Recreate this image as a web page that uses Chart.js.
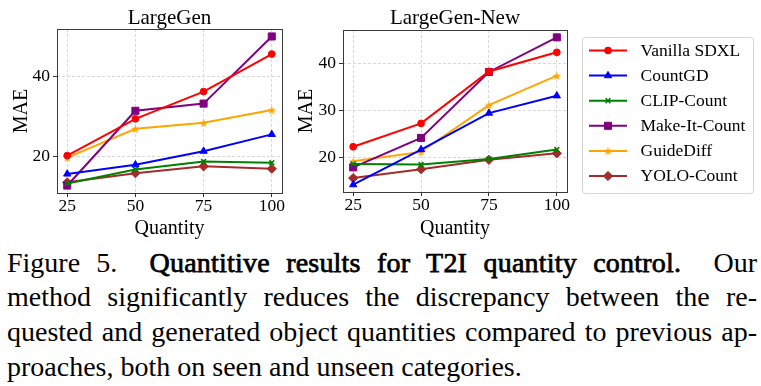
<!DOCTYPE html>
<html>
<head>
<meta charset="utf-8">
<script src="https://cdn.jsdelivr.net/npm/chart.js@4.4.0/dist/chart.umd.min.js"></script>
<style>
  html, body { margin: 0; padding: 0; background: #fff; }
  body { width: 761px; height: 386px; position: relative; overflow: hidden; }
  canvas { position: absolute; top: 0; }
  #seenChart { left: 0; }
  #newChart { left: 290px; }
  #caption {
    position: absolute; left: 7px; top: 245.5px; width: 750px;
    font-family: 'Liberation Serif', 'Times New Roman', serif;
    font-size: 28px; line-height: 34.67px; color: #000;
  }
  #caption .j { text-align: justify; text-align-last: justify; }
  #caption .b { font-weight: normal; -webkit-text-stroke: 0.75px #000; letter-spacing: 0.2px; }
</style>
</head>
<body>
<canvas id="seenChart" width="290" height="246"></canvas>
<canvas id="newChart" width="471" height="246"></canvas>
<div id="caption">
  <div class="j">Figure 5.&nbsp; <span class="b">Quantitive results for T2I quantity control.</span>&nbsp; Our</div>
  <div class="j">method significantly reduces the discrepancy between the re-</div>
  <div class="j">quested and generated object quantities compared to previous ap-</div>
  <div>proaches, both on seen and unseen categories.</div>
</div>
<script>
Chart.defaults.font.family = "'Liberation Serif', 'Times New Roman', serif";
Chart.defaults.color = "#000";

/* =========================
   DATA
========================= */
const quantities = [25, 50, 75, 100];
const xTickValues = [25, 50, 75, 100];
const yTicksSeen = [20, 40];
const yTicksNew = [20, 30, 40];

const methods = ["Vanilla SDXL", "CountGD", "CLIP-Count", "Make-It-Count", "GuideDiff", "YOLO-Count"];

// LargeGen (seen categories)
const vanillaSeen = [20.2, 29.4, 36.2, 45.6];
const countGDSeen = [15.6, 17.9, 21.3, 25.5];
const clipSeen    = [13.2, 16.7, 18.7, 18.4];
const makeItSeen  = [12.7, 31.4, 33.2, 50.0];
const guideSeen   = [19.7, 26.9, 28.4, 31.6];
const yoloSeen    = [13.5, 15.8, 17.5, 16.9];

// LargeGen-New (unseen categories)
const vanillaNew = [22.2, 27.2, 38.3, 42.4];
const countGDNew = [14.1, 21.6, 29.4, 33.1];
const clipNew    = [18.5, 18.4, 19.6, 21.6];
const makeItNew  = [17.8, 24.1, 38.2, 45.6];
const guideNew   = [19.1, 21.1, 31.1, 37.4];
const yoloNew    = [15.5, 17.4, 19.4, 20.8];

/* =========================
   STYLE
========================= */
const colors = ["#ff0000", "#0000ff", "#008000", "#800080", "#ffa500", "#a52a2a"];

function makeStar(size, color) {
  const c = document.createElement("canvas");
  c.width = c.height = size;
  const g = c.getContext("2d");
  g.fillStyle = color;
  g.beginPath();
  for (let i = 0; i < 10; i++) {
    const r = i % 2 ? size * 0.21 : size * 0.5;
    const a = -Math.PI / 2 + i * Math.PI / 5;
    g.lineTo(size / 2 + r * Math.cos(a), size / 2 + 0.6 + r * Math.sin(a));
  }
  g.closePath();
  g.fill();
  return c;
}

const markers = ["circle", "triangle", "crossRot", "rect", makeStar(9, colors[4]), "rectRot"];
const markerRadius = [3.4, 4.2, 3.4, 5, 4, 4.6];
const markerBorder = [1, 1, 1.6, 1, 1, 1];

function padRange(series) {
  const all = series.flat();
  const lo = Math.min(...all), hi = Math.max(...all);
  const pad = (hi - lo) * 0.05;
  return [lo - pad, hi + pad];
}

/* =========================
   PLUGINS
========================= */
const framePlugin = {
  id: "frame",
  afterDatasetsDraw(chart) {
    const a = chart.chartArea, ctx = chart.ctx;
    ctx.save();
    ctx.strokeStyle = "#3a3a3a";
    ctx.lineWidth = 1;
    ctx.strokeRect(Math.round(a.left) + 0.5, Math.round(a.top) + 0.5,
      Math.round(a.right - a.left), Math.round(a.bottom - a.top));
    ctx.restore();
  }
};

const legendPlugin = {
  id: "boxLegend",
  afterDraw(chart) {
    const ctx = chart.ctx;
    const bx = 292.5, by = 37.5, bw = 171, bh = 156;
    ctx.save();
    ctx.beginPath();
    ctx.roundRect(bx, by, bw, bh, 3);
    ctx.fillStyle = "rgba(255,255,255,0.9)";
    ctx.fill();
    ctx.strokeStyle = "#d6d6d6";
    ctx.lineWidth = 1;
    ctx.stroke();

    chart.data.datasets.forEach((ds, i) => {
      const y = 50.5 + i * 25.1;
      ctx.strokeStyle = ds.borderColor;
      ctx.lineWidth = 2;
      ctx.beginPath();
      ctx.moveTo(299, y);
      ctx.lineTo(337, y);
      ctx.stroke();
      ctx.fillStyle = ds.borderColor;
      ctx.lineWidth = ds.pointBorderWidth;
      Chart.helpers.drawPoint(ctx, {
        pointStyle: ds.pointStyle, radius: ds.pointRadius,
        borderWidth: ds.pointBorderWidth, rotation: 0
      }, 318, y);
      ctx.fillStyle = "#000";
      ctx.font = "17.5px 'Liberation Serif', 'Times New Roman', serif";
      ctx.textBaseline = "middle";
      ctx.textAlign = "left";
      ctx.fillText(ds.label, 350.5, y + 0.5);
    });
    ctx.restore();
  }
};

/* =========================
   CHARTS
========================= */
function makeChart(id, title, series, yTicks, box, extraPlugins) {
  const [ymin, ymax] = padRange(series);
  return new Chart(document.getElementById(id), {
    type: "line",
    data: {
      datasets: series.map((vals, i) => ({
        label: methods[i],
        data: quantities.map((q, j) => ({ x: q, y: vals[j] })),
        borderColor: colors[i],
        backgroundColor: colors[i],
        pointBackgroundColor: colors[i],
        pointBorderColor: colors[i],
        borderWidth: 2,
        tension: 0,
        pointStyle: markers[i],
        pointRadius: markerRadius[i],
        pointBorderWidth: markerBorder[i],
        clip: false
      }))
    },
    options: {
      responsive: false,
      animation: false,
      events: [],
      layout: { padding: { left: 0, right: box.padRight, top: 0, bottom: 0 } },
      plugins: {
        legend: { display: false },
        tooltip: { enabled: false },
        title: {
          display: true,
          text: title,
          fullSize: false,
          color: "#000",
          font: { size: 21, weight: "normal", lineHeight: 1 },
          padding: { top: 8, bottom: box.titleGap }
        }
      },
      scales: {
        x: {
          type: "linear",
          min: 25 - 75 * 0.05,
          max: 100 + 75 * 0.05,
          afterBuildTicks: s => { s.ticks = xTickValues.map(v => ({ value: v })); },
          afterFit: s => { s.height = box.xh; },
          ticks: { font: { size: 17.5 }, padding: -1, color: "#000" },
          grid: { color: "#cfcfcf", lineWidth: 0.8, tickLength: 4, tickColor: "#333", tickWidth: 1 },
          border: { display: false, dash: [3, 2] },
          title: { display: true, text: "Quantity", font: { size: 20 }, padding: { top: 0, bottom: 5.5 }, color: "#000" }
        },
        y: {
          type: "linear",
          min: ymin,
          max: ymax,
          afterBuildTicks: s => { s.ticks = yTicks.map(v => ({ value: v })); },
          afterFit: s => { s.width = box.yw; },
          ticks: { font: { size: 17.5 }, padding: box.yPad, color: "#000" },
          grid: { color: "#cfcfcf", lineWidth: 0.8, tickLength: 4, tickColor: "#333", tickWidth: 1 },
          border: { display: false, dash: [3, 2] },
          title: { display: true, text: "MAE", font: { size: 20 }, padding: { top: box.yTitlePad, bottom: 0 }, color: "#000" }
        }
      }
    },
    plugins: [framePlugin].concat(extraPlugins)
  });
}

makeChart("seenChart", "LargeGen",
  [vanillaSeen, countGDSeen, clipSeen, makeItSeen, guideSeen, yoloSeen],
  yTicksSeen,
  { padRight: 8, xh: 53, yw: 57, yPad: 3, yTitlePad: 10, titleGap: 0 }, []);

makeChart("newChart", "LargeGen-New",
  [vanillaNew, countGDNew, clipNew, makeItNew, guideNew, yoloNew],
  yTicksNew,
  { padRight: 194, xh: 54, yw: 53, yPad: 3, yTitlePad: 5, titleGap: 1 }, [legendPlugin]);
</script>
</body>
</html>
